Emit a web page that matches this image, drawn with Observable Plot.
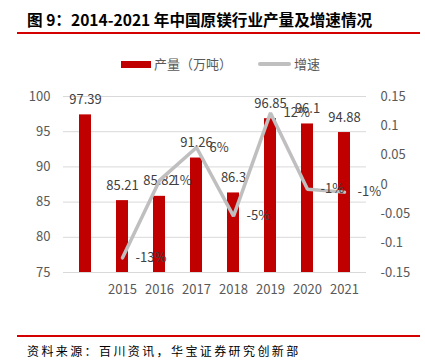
<!DOCTYPE html>
<html><head><meta charset="utf-8">
<script src="https://cdn.jsdelivr.net/npm/d3@7"></script>
<script src="https://cdn.jsdelivr.net/npm/@observablehq/plot@0.6"></script>
<style>
body{margin:0;background:#fff;}
#wrap{position:relative;width:425px;height:363px;overflow:hidden;font-family:"Noto Sans CJK SC","Noto Sans",sans-serif;background:#fff;}
#title{position:absolute;left:27px;top:8px;font-size:15.6px;font-weight:bold;color:#000;white-space:nowrap;line-height:22px;}
.rule{position:absolute;left:17px;width:403px;height:2px;background:#d40000;}
.leg{position:absolute;font-size:13px;color:#595959;line-height:18px;white-space:nowrap;}
#chart{position:absolute;left:0;top:80px;width:425px;height:225px;}
#chart svg{position:absolute;left:0;top:0;}
#caption{position:absolute;left:27px;top:342px;font-size:12px;color:#000;letter-spacing:2.4px;white-space:nowrap;line-height:18px;}
</style></head>
<body><div id="wrap">
<div id="title">图 9：2014-2021 年中国原镁行业产量及增速情况</div>
<div class="rule" style="top:32px"></div>
<div style="position:absolute;left:121px;top:61px;width:30px;height:7px;background:#c00000"></div>
<div class="leg" style="left:154px;top:55px">产量（万吨）</div>
<div style="position:absolute;left:258px;top:62px;width:33px;height:4px;background:#bfbfbf;border-radius:2px"></div>
<div class="leg" style="left:294px;top:55px">增速</div>
<div id="chart"></div>
<div class="rule" style="top:335px"></div>
<div id="caption">资料来源：百川资讯，华宝证券研究创新部</div>
</div>
<script>
const years = [2014, 2015, 2016, 2017, 2018, 2019, 2020, 2021];
const yearLabels = ["", "2015", "2016", "2017", "2018", "2019", "2020", "2021"];
const output = [97.39, 85.21, 85.82, 91.26, 86.3, 96.85, 96.1, 94.88];
const outputLabels = ["97.39", "85.21", "85.82", "91.26", "86.3", "96.85", "96.1", "94.88"];
const growthYears = [2015, 2016, 2017, 2018, 2019, 2020, 2021];
const growth = [-0.125, 0.007, 0.063, -0.054, 0.122, -0.008, -0.013];
const growthLabels = ["-13%", "1%", "6%", "-5%", "12%", "-1%", "-1%"];
const leftTicks = [75, 80, 85, 90, 95, 100];
const rightTicks = [-0.15, -0.1, -0.05, 0, 0.05, 0.1, 0.15];
const rightTickLabels = ["-0.15", "-0.1", "-0.05", "0", "0.05", "0.1", "0.15"];

const barData = years.map((y, i) => ({year: y, value: output[i], label: outputLabels[i], tick: yearLabels[i]}));
const lineData = growthYears.map((y, i) => ({year: y, g: growth[i], label: growthLabels[i]}));

const common = {
  width: 425, height: 225,
  marginLeft: 63, marginRight: 59, marginTop: 16, marginBottom: 33,
  style: {fontFamily: '"Noto Sans CJK SC","Noto Sans",sans-serif', fontSize: "13px", color: "#595959", background: "transparent", overflow: "visible"},
  x: {type: "band", domain: years, paddingInner: 0.68, paddingOuter: 0.34, axis: null, label: null}
};

const p1 = Plot.plot({
  ...common,
  y: {domain: [75, 100], axis: null, label: null},
  marks: [
    Plot.ruleY(leftTicks, {stroke: "#d9d9d9", strokeWidth: 1}),
    Plot.barY(barData, {x: "year", y1: 75, y2: "value", fill: "#c00000"}),
    Plot.text(barData, {x: "year", y: "value", text: "label", dy: -15, fill: "#404040", fontSize: 13}),
    Plot.axisY(leftTicks, {anchor: "left", label: null, tickSize: 0, tickPadding: 13, tickFormat: d => String(d)}),
    Plot.axisX(years, {anchor: "bottom", label: null, tickSize: 0, tickPadding: 12, tickFormat: d => yearLabels[years.indexOf(d)]})
  ]
});

const p2 = Plot.plot({
  ...common,
  y: {domain: [-0.15, 0.15], axis: null, label: null},
  marks: [
    Plot.lineY(lineData, {x: "year", y: "g", stroke: "#bfbfbf", strokeWidth: 3.5, strokeLinejoin: "miter"}),
    Plot.text(lineData, {x: "year", y: "g", text: "label", textAnchor: "start", dx: 13, fill: "#404040", fontSize: 13}),
    Plot.axisY(rightTicks, {anchor: "right", label: null, tickSize: 0, tickPadding: 14, tickFormat: d => rightTickLabels[rightTicks.indexOf(d)]})
  ]
});

const chart = document.getElementById("chart");
chart.appendChild(p1);
chart.appendChild(p2);
</script>
</body></html>
